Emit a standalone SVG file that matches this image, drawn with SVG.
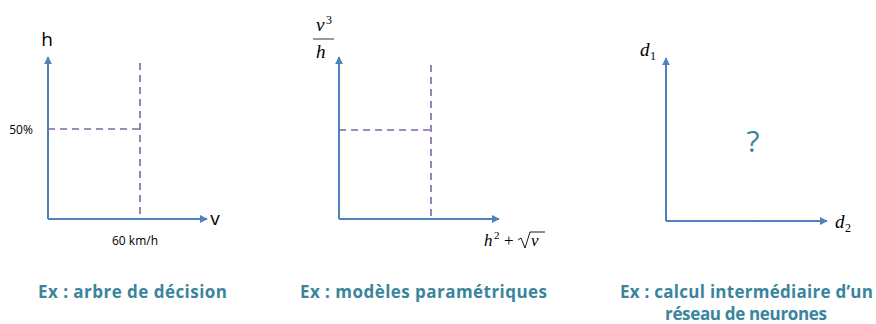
<svg xmlns="http://www.w3.org/2000/svg" width="876" height="324" viewBox="0 0 876 324">
<style>
.axis{stroke:#4F81BD;stroke-width:2;fill:none}
.dash{stroke:#8064A2;stroke-width:1.6;stroke-dasharray:7,5;fill:none}
.cap{font-family:"Open Sans","Liberation Sans",Arial,sans-serif;font-weight:bold;font-size:17px;fill:#3A849C}
.lbl{font-family:"Open Sans","Liberation Sans",Arial,sans-serif;fill:#000}
.math{font-family:"Liberation Serif","Times New Roman",serif;font-style:italic;fill:#000}
.mathn{font-family:"Liberation Serif","Times New Roman",serif;fill:#000}
</style>
<defs>
<marker id="arr" viewBox="0 0 10 10" refX="9" refY="5" markerWidth="4" markerHeight="4" orient="auto" markerUnits="strokeWidth">
<path d="M0,0 L10,5 L0,10 z" fill="#4F81BD"/>
</marker>
</defs>
<g id="connectors">
<path class="axis" d="M48,219 L48,57" marker-end="url(#arr)"/>
<path class="axis" d="M48,219 L207,219" marker-end="url(#arr)"/>
<path class="dash" d="M48,129 L140,129"/>
<path class="dash" d="M140,63 L140,219"/>
<path class="axis" d="M339,219 L339,57" marker-end="url(#arr)"/>
<path class="axis" d="M339,219 L499,219" marker-end="url(#arr)"/>
<path class="dash" d="M339,130 L431,130"/>
<path class="dash" d="M431,65 L431,219"/>
<path class="axis" d="M666,221 L666,58" marker-end="url(#arr)"/>
<path class="axis" d="M666,221 L827,221" marker-end="url(#arr)"/>
<path d="M665,132 L667,132 M757,220 L757,222" stroke="#8064A2" stroke-width="1"/>
</g>
<g id="panel1">
<text class="lbl" x="47" y="46" font-size="19" text-anchor="middle">h</text>
<text class="lbl" x="215" y="225" font-size="19" text-anchor="middle">v</text>
<text class="lbl" x="21" y="134" font-size="12" text-anchor="middle">50%</text>
<text class="lbl" x="135" y="245" font-size="12" text-anchor="middle">60 km/h</text>
<text class="cap" x="38" y="298" textLength="189">Ex : arbre de décision</text>
</g>
<g id="panel2">
<text class="math" x="316" y="31" font-size="19">v</text>
<text class="mathn" x="326" y="24" font-size="12">3</text>
<line x1="313" y1="39" x2="334" y2="39" stroke="#000" stroke-width="0.8"/>
<text class="math" x="316" y="58" font-size="19">h</text>
<text class="math" x="484" y="246" font-size="17">h</text>
<text class="mathn" x="494" y="239" font-size="11">2</text>
<text class="mathn" x="504" y="246" font-size="17">+</text>
<path d="M518,240 L521,238 L525,248 L530,232 L545,232" stroke="#000" stroke-width="0.9" fill="none"/>
<text class="math" x="531" y="246" font-size="17">v</text>
<text class="cap" x="300" y="298" textLength="247">Ex : modèles paramétriques</text>
</g>
<g id="panel3">
<text class="math" x="640" y="56" font-size="19">d</text>
<text class="mathn" x="650" y="60" font-size="12">1</text>
<text class="math" x="835" y="228" font-size="19">d</text>
<text class="mathn" x="845" y="232" font-size="12">2</text>
<text x="753" y="152" font-size="30" text-anchor="middle" font-family="Open Sans,Liberation Sans,Arial,sans-serif" fill="#3A849C">?</text>
<text class="cap" x="620" y="298" textLength="253">Ex : calcul intermédiaire d’un</text>
<text class="cap" x="665" y="320" textLength="162">réseau de neurones</text>
</g>
</svg>
